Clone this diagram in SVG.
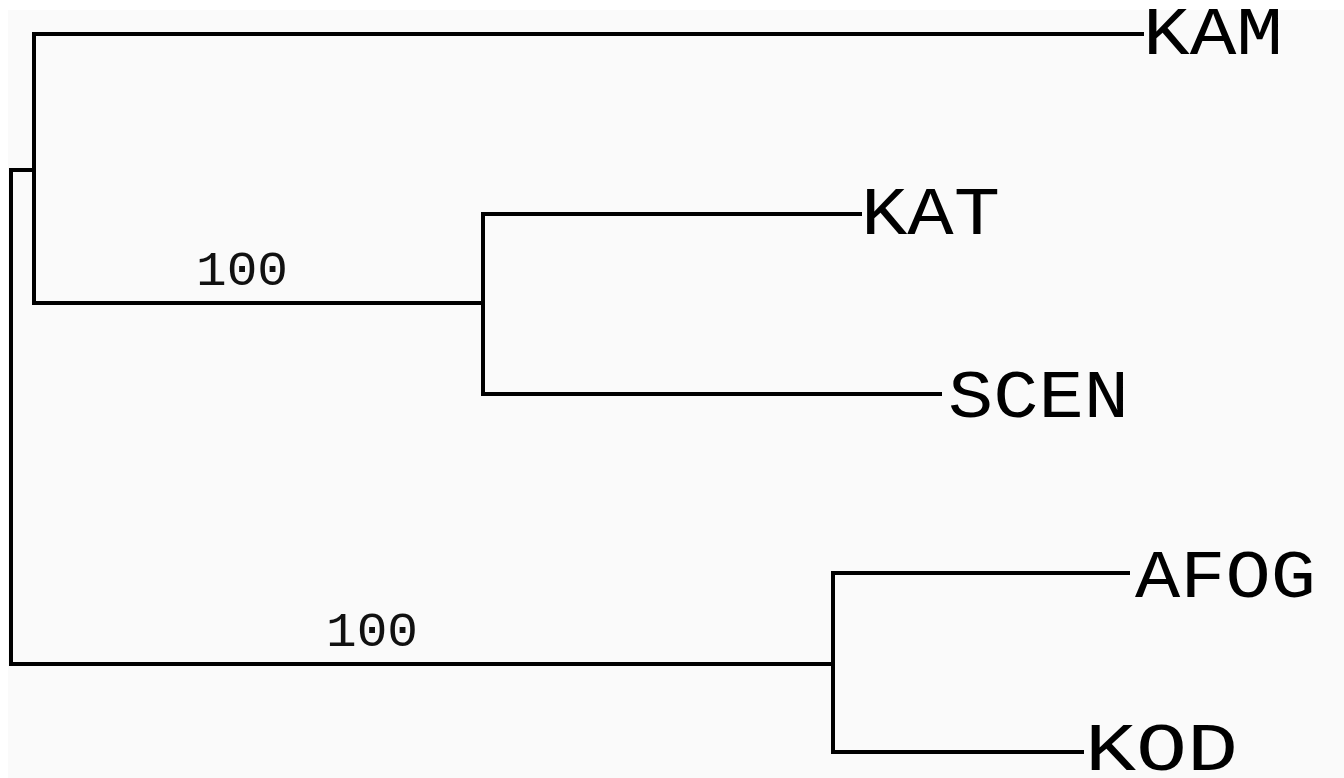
<svg xmlns="http://www.w3.org/2000/svg" width="1344" height="778" viewBox="0 0 1344 778">
<style>
.br{stroke:#000;stroke-width:4;fill:none;stroke-linecap:square;stroke-linejoin:miter}
.tip{font-family:"Liberation Mono","Courier New",monospace;font-size:68px;fill:#000}
.bs{font-family:"Liberation Mono","Courier New",monospace;font-size:49px;fill:#111}
</style>
<rect x="0" y="0" width="1344" height="778" fill="#ffffff"/>
<rect x="8" y="10" width="1336" height="768" fill="#fafafa"/>
<g id="connectors">
<path class="br" d="M11,170 H34 M11,170 V664 H833"/>
<path class="br" d="M34,34 H1142 M34,34 V303 H483"/>
<path class="br" d="M483,214 H860 M483,214 V394 H940"/>
<path class="br" d="M833,573 H1128 M833,573 V752 H1082"/>
</g>
<g id="node-KAM"><text class="tip" x="1143" y="54" textLength="140" lengthAdjust="spacingAndGlyphs">KAM</text></g>
<g id="node-KAT"><text class="tip" x="861" y="234" textLength="139" lengthAdjust="spacingAndGlyphs">KAT</text></g>
<g id="node-SCEN"><text class="tip" x="948" y="417" textLength="181" lengthAdjust="spacingAndGlyphs">SCEN</text></g>
<g id="node-AFOG"><text class="tip" x="1135" y="597" textLength="181" lengthAdjust="spacingAndGlyphs">AFOG</text></g>
<g id="node-KOD"><text class="tip" x="1085" y="770" textLength="153" lengthAdjust="spacingAndGlyphs">KOD</text></g>
<g id="support-1"><text class="bs" x="196" y="285" textLength="92" lengthAdjust="spacingAndGlyphs">100</text></g>
<g id="support-2"><text class="bs" x="326" y="646" textLength="92" lengthAdjust="spacingAndGlyphs">100</text></g>
</svg>
